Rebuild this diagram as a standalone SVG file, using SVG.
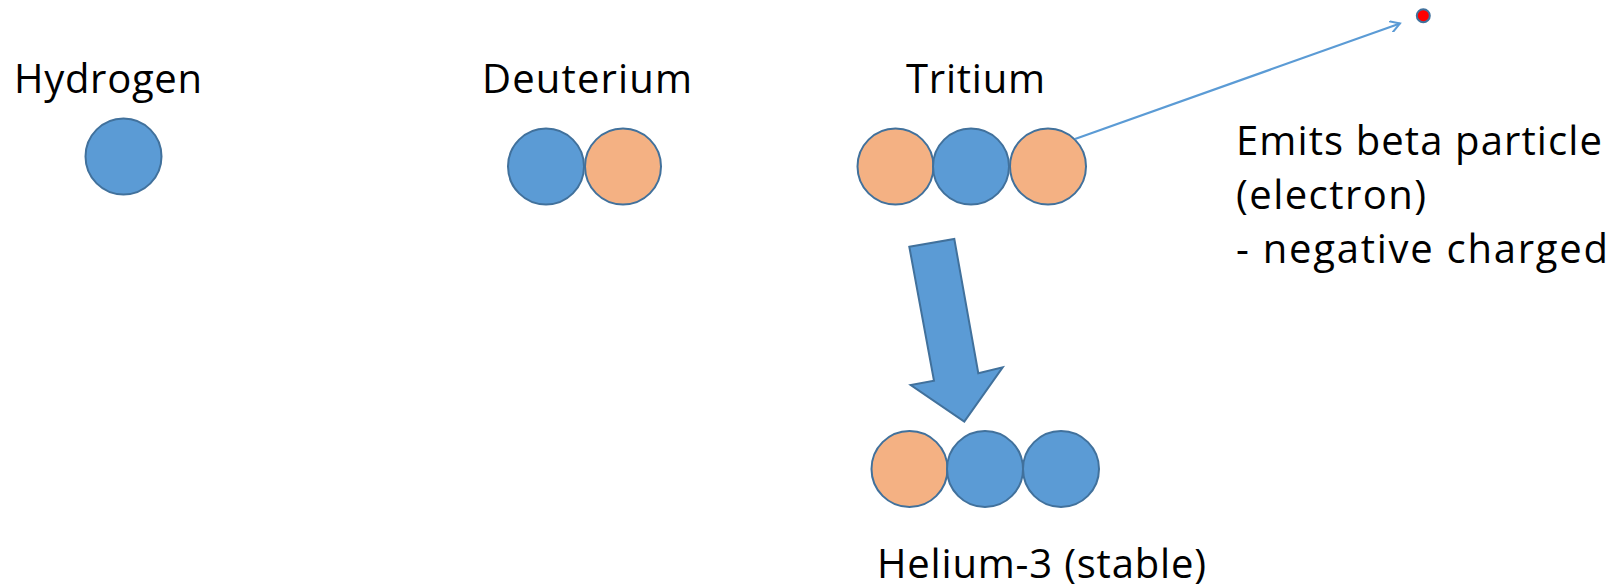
<svg xmlns="http://www.w3.org/2000/svg" width="1614" height="587" viewBox="0 0 1614 587">
  <style>
    .lbl { font-family: "Open Sans", Lato, "Liberation Sans", sans-serif; font-size: 40px; fill: #000; }
    .p { fill: #5B9BD5; stroke: #41719C; stroke-width: 2; }
    .n { fill: #F4B183; stroke: #41719C; stroke-width: 2; }
  </style>
  <defs>
    <marker id="open" markerWidth="12" markerHeight="12" refX="10" refY="6" orient="auto" markerUnits="userSpaceOnUse" viewBox="0 0 12 12">
      <path d="M0,0 L10,6 L0,12" fill="none" stroke="#5B9BD5" stroke-width="2"/>
    </marker>
  </defs>
  <rect width="1614" height="587" fill="#fff"/>

  <g id="hydrogen">
    <text class="lbl" x="14" y="93" textLength="188" lengthAdjust="spacing">Hydrogen</text>
    <circle class="p" cx="123.5" cy="156.5" r="38"/>
  </g>

  <g id="deuterium">
    <text class="lbl" x="482" y="93" textLength="210" lengthAdjust="spacing">Deuterium</text>
    <circle class="p" cx="546" cy="166.5" r="38"/>
    <circle class="n" cx="623" cy="166.5" r="38"/>
  </g>

  <g id="tritium">
    <text class="lbl" x="906" y="93" textLength="139" lengthAdjust="spacing">Tritium</text>
    <circle class="n" cx="895.5" cy="166.5" r="38"/>
    <circle class="p" cx="971" cy="166.5" r="38"/>
    <circle class="n" cx="1048" cy="166.5" r="38"/>
  </g>

  <g id="electron">
    <circle cx="1423.3" cy="15.7" r="6.5" fill="#FF0000" stroke="#41719C" stroke-width="2"/>
  </g>

  <g id="beta-label">
    <text class="lbl" x="1236" y="155" textLength="366" lengthAdjust="spacing">Emits beta particle</text>
    <text class="lbl" x="1236" y="209" textLength="190" lengthAdjust="spacing">(electron)</text>
    <text class="lbl" x="1236" y="263" textLength="372" lengthAdjust="spacing">- negative charged</text>
  </g>

  <g id="helium3">
    <circle class="n" cx="909.5" cy="469" r="38"/>
    <circle class="p" cx="985" cy="469" r="38"/>
    <circle class="p" cx="1061" cy="469" r="38"/>
    <text class="lbl" x="877" y="578" textLength="329" lengthAdjust="spacing">Helium-3 (stable)</text>
  </g>

  <g id="connectors">
    <line x1="1075" y1="139" x2="1400" y2="23.5" stroke="#5B9BD5" stroke-width="2.2" marker-end="url(#open)"/>
    <polygon points="909.3,246.7 954.3,239 978.3,373.3 1002.7,367.3 964.3,421.7 910.7,385 934,380.7" fill="#5B9BD5" stroke="#41719C" stroke-width="2" stroke-linejoin="miter"/>
  </g>
</svg>
